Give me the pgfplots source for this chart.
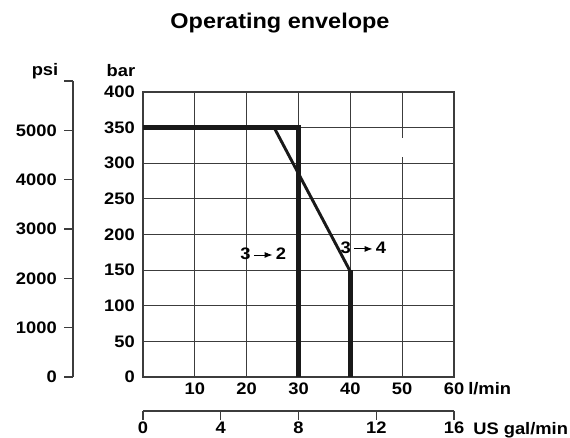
\documentclass[border=0pt]{standalone}
\usepackage{fontspec}
\setmainfont[FakeStretch=1.1]{Liberation Sans}
\usepackage{pgfplots}
\pgfplotsset{compat=1.18}
\usetikzlibrary{arrows.meta}

\definecolor{gridc}{HTML}{3C3C3C}
\newcommand{\lbl}{\bfseries\fontsize{12.5}{14}\selectfont}
\newcommand{\arr}{\tikz[baseline=-0.55ex]\draw[line width=0.7pt,-{Latex[length=6pt,width=4.5pt]}](0,0)--(14pt,0);}

\pgfplotsset{
  every axis/.append style={
    scale only axis, anchor=south west,
    /pgf/number format/assume math mode=true,
    tick label style={font=\lbl, inner sep=0pt},
    axis line style={line width=0.8pt, gridc},
    tick style={line width=0.8pt, gridc},
  },
}

\begin{document}
\begin{tikzpicture}
\useasboundingbox (0,0) rectangle (427.5pt,328.5pt);

\node[anchor=base, font=\bfseries\fontsize{16}{19}\selectfont] at (210pt,307.3pt) {Operating envelope};

% main chart: bar vs l/min
\begin{axis}[
  at={(107.25pt,45.75pt)},
  width=233.25pt, height=213.75pt,
  xmin=0, xmax=60, ymin=0, ymax=400,
  xtick={0,10,...,60}, xticklabels={,10,20,30,40,50,60},
  ytick={0,50,...,400},
  grid=major,
  major grid style={line width=0.8pt, gridc},
  major tick length=0pt,
  xticklabel style={anchor=base, yshift=-13.5pt},
  yticklabel style={anchor=east, xshift=-6pt},
  clip=false,
]
\fill[white] (axis cs:49.3,309) rectangle (axis cs:50.7,335);

\addplot[line width=3.4pt, black!90, line join=miter] coordinates {(0,350) (30,350) (30,0)};
\addplot[line width=2.2pt, black!90] coordinates {(25.3,350) (40,148)};
\addplot[line width=3.4pt, black!90] coordinates {(40,150) (40,0)};

\node[font=\lbl] at (axis cs:23.2,172.5) {3\,\arr\,2};
\node[font=\lbl] at (axis cs:42.5,181) {3\,\arr\,4};

\node[font=\lbl, anchor=base west, inner sep=0pt] at ([xshift=10.5pt, yshift=-13.5pt]rel axis cs:1,0) {l/min};
\node[font=\lbl] at ([xshift=-16.5pt, yshift=15.75pt]rel axis cs:0,1) {bar};
\end{axis}

% psi scale
\begin{axis}[
  at={(54.75pt,45.75pt)},
  width=1pt, height=222pt,
  xmin=0, xmax=1, ymin=0, ymax=6000,
  axis y line*=left, hide x axis,
  ytick={0,1000,...,6000},
  yticklabels={0,1000,2000,3000,4000,5000,{}},
  scaled y ticks=false,
  tick align=outside, major tick length=6.75pt,
  yticklabel style={anchor=east, xshift=-5.25pt},
  clip=false,
]
\node[font=\lbl] at ([xshift=-21pt, yshift=7.5pt]rel axis cs:0,1) {psi};
\end{axis}

% US gal/min scale
\begin{axis}[
  at={(107.25pt,20.25pt)},
  width=233.25pt, height=1pt,
  xmin=0, xmax=16, ymin=0, ymax=1,
  axis x line*=bottom, hide y axis,
  xtick={0,4,8,12,16},
  tick align=outside, major tick length=6.75pt,
  xticklabel style={anchor=base, yshift=-10.5pt},
  clip=false,
]
\node[font=\lbl, anchor=base west, inner sep=0pt] at ([xshift=14.25pt, yshift=-18pt]rel axis cs:1,0) {US gal/min};
\end{axis}
\end{tikzpicture}
\end{document}
